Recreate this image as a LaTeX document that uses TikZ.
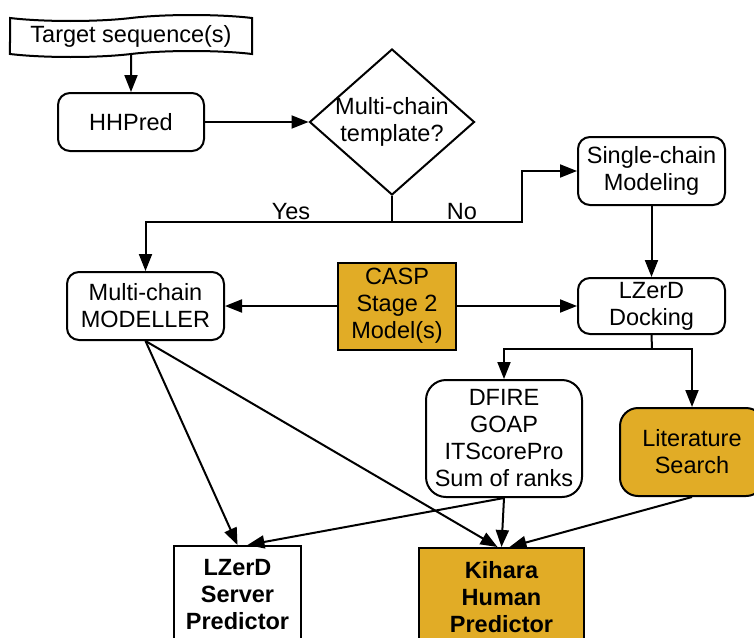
\documentclass[tikz,border=0pt]{standalone}
\usepackage{fontspec}
\setmainfont{Liberation Sans}
\usetikzlibrary{arrows.meta,shapes.geometric,shapes.symbols}
\definecolor{caspgold}{RGB}{225,172,38}

\begin{document}
\begin{tikzpicture}[x=1pt, y=-1pt, line width=2pt, >={Triangle[length=17pt,width=13pt]},
    every node/.style={font=\fontsize{23.5}{27}\selectfont, align=center, inner sep=0pt},
    proc/.style={draw, rounded corners=12pt},
    goldproc/.style={draw, fill=caspgold, rounded corners=18pt},
    goldbox/.style={draw, fill=caspgold},
    outbox/.style={draw, font=\fontsize{23.5}{27}\selectfont\bfseries}]
    \useasboundingbox (0,0) rectangle (754,637);
    \clip (0,0) rectangle (754,637);
    \node[draw, shape=tape, tape bend height=6pt, minimum width=242pt, minimum height=42pt] (target) at (131,36) {Target sequence(s)};
    \node[proc, minimum width=146pt, minimum height=58pt] (hhpred) at (131,122) {HHPred};
    \node[draw, diamond, minimum width=165pt, minimum height=146pt] (decide) at (392,122) {};
    \node (decidetext) at (392,122) {Multi-chain\\template?};
    \node[proc, minimum width=147pt, minimum height=68pt] (single) at (651.5,171) {Single-chain\\Modeling};
    \node[proc, minimum width=157pt, minimum height=68pt] (modeller) at (145.5,306) {Multi-chain\\MODELLER};
    \node[goldbox, minimum width=118pt, minimum height=87pt] (casp) at (397,306) {CASP\\Stage 2\\Model(s)};
    \node[proc, minimum width=147pt, minimum height=56pt] (lzerd) at (651.5,306) {LZerD\\Docking};
    \node[proc, rounded corners=20pt, minimum width=156pt, minimum height=117pt] (scores) at (504,438.5) {DFIRE\\GOAP\\ITScorePro\\Sum of ranks};
    \node[goldproc, minimum width=144pt, minimum height=88pt] (lit) at (692,452) {Literature\\Search};
    \node[outbox, minimum width=127pt, minimum height=98pt] (server) at (237.5,595) {LZerD\\Server\\Predictor};
    \node[outbox, fill=caspgold, minimum width=165pt, minimum height=98pt] (human) at (501.5,597) {Kihara\\Human\\Predictor};
    \node (yes) at (291,212) {Yes};
    \node (no) at (462,212) {No};
    \coordinate (fork) at (392,222);
    \coordinate (turn) at (522,222);
    \coordinate (split) at (652,349);
    \draw[->] (target) -- (hhpred);
    \draw[->] (hhpred) -- (decide);
    \draw (decide.south) -- (fork);
    \draw[->] (fork) -| (modeller);
    \draw[->] (fork) -- (turn) |- (single);
    \draw[->] (single) -- (lzerd);
    \draw[->] (casp) -- (modeller);
    \draw[->] (casp) -- (lzerd);
    \draw (lzerd.south) -- (split);
    \draw[->] (split) -| (scores);
    \draw[->] (split) -| (lit);
    \draw[->] (modeller.south) -- (server.north);
    \draw[->] (modeller.south) -- ([xshift=-4pt]human.north);
    \draw[->] (scores.south) -- ([xshift=10pt]server.north);
    \draw[->] (scores.south) -- (human.north);
    \draw[->] (lit.south) -- ([xshift=8pt]human.north);
\end{tikzpicture}
\end{document}
